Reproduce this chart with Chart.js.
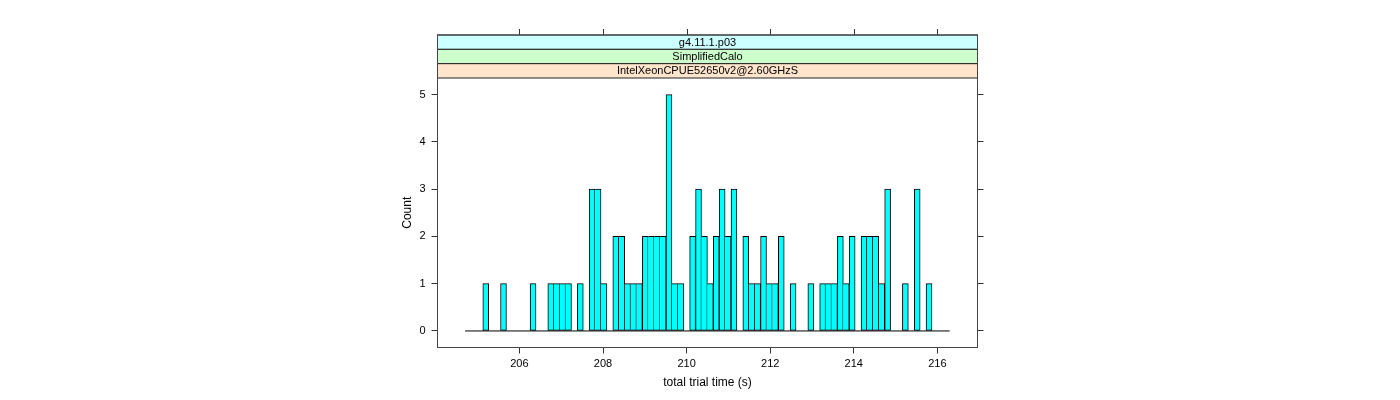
<!DOCTYPE html>
<html>
<head>
<meta charset="utf-8">
<script src="https://cdn.jsdelivr.net/npm/chart.js@4/dist/chart.umd.min.js"></script>
<style>
  html, body { margin: 0; padding: 0; background: #fff; }
  #wrap { width: 1400px; height: 400px; }
</style>
</head>
<body>
<div id="wrap"><canvas id="myChart" width="1400" height="400"></canvas></div>
<script>
// histogram bins (start + width) and the counts
var binStart = 204.70;
var binWidth = 0.1414;
var counts = [0, 0, 0,
  1, 0, 0, 1, 0, 0, 0, 0, 1, 0, 0, 1, 1, 1, 1, 0, 1, 0,
  3, 3, 1, 0, 2, 2, 1, 1, 1, 2, 2, 2, 2, 5, 1, 1, 0,
  2, 3, 2, 1, 2, 3, 2, 3, 0, 2, 1, 1, 2, 1, 1, 2, 0,
  1, 0, 0, 1, 0, 1, 1, 1, 2, 1, 2, 0, 2, 2, 2, 1, 3,
  0, 0, 1, 0, 3, 0, 1, 0, 0, 0];
var xTicks = [206, 208, 210, 212, 214, 216];
var yTicks = [0, 1, 2, 3, 4, 5];
var stripLabels = ['g4.11.1.p03', 'SimplifiedCalo', 'IntelXeonCPUE52650v2@2.60GHzS'];
var stripColors = ['#ccffff', '#ccffcc', '#ffe5cc'];

var FONT = "'Liberation Sans', Arial, sans-serif";
var STRIP_H = 43 / 3;

var bars = counts.map(function(c, i) {
    return {x: binStart + (i + 0.5) * binWidth, y: c};
});
var baseline = [
    {x: binStart, y: 0},
    {x: binStart + counts.length * binWidth, y: 0}
];

function fixTicks(list) {
    return function(scale) {
        scale.ticks = list.map(function(v) { return {value: v}; });
    };
}

// strips above the panel, box around it, and the ticks over the strips
var latticeFrame = {
    id: 'latticeFrame',
    afterDraw: function(chart) {
        var ctx = chart.ctx;
        var a = chart.chartArea;
        var x = chart.scales.x;
        ctx.save();
        ctx.font = '11px ' + FONT;
        ctx.textAlign = 'center';
        ctx.textBaseline = 'middle';
        for (var i = 0; i < stripLabels.length; i++) {
            var top = a.top - STRIP_H * (stripLabels.length - i);
            ctx.fillStyle = stripColors[i];
            ctx.fillRect(a.left, top, a.right - a.left, STRIP_H);
            ctx.strokeStyle = '#222';
            ctx.lineWidth = 1;
            ctx.strokeRect(a.left, top, a.right - a.left, STRIP_H);
            ctx.fillStyle = '#000';
            ctx.fillText(stripLabels[i], (a.left + a.right) / 2, top + STRIP_H / 2 + 0.5);
        }
        var stripTop = a.top - STRIP_H * stripLabels.length;
        ctx.strokeStyle = '#333';
        ctx.beginPath();
        xTicks.forEach(function(v) {
            var px = Math.round(x.getPixelForValue(v)) + 0.5;
            ctx.moveTo(px, stripTop);
            ctx.lineTo(px, stripTop - 6);
        });
        ctx.stroke();
        ctx.strokeStyle = '#444';
        ctx.strokeRect(a.left, stripTop, a.right - a.left, a.bottom - stripTop);
        ctx.restore();
    }
};

var ctx = document.getElementById('myChart');
var chart = new Chart(ctx, {
    type: 'bar',
    data: {
        datasets: [{
            type: 'line',
            data: baseline,
            borderColor: '#000',
            borderWidth: 1,
            pointRadius: 0,
            order: 0
        }, {
            data: bars,
            backgroundColor: '#00ffff',
            borderColor: '#000',
            borderWidth: 1,
            // neighbouring bars share one edge line, like lattice draws it
            borderSkipped: function(c) {
                var i = c.dataIndex;
                var prev = i > 0 ? counts[i - 1] : 0;
                return (counts[i] > 0 && prev >= counts[i]) ? 'left' : false;
            },
            barPercentage: 1,
            categoryPercentage: 1,
            order: 1
        }]
    },
    options: {
        responsive: false,
        animation: false,
        events: [],
        layout: {padding: {left: 400, right: 416.5, top: 78, bottom: 10}},
        plugins: {legend: {display: false}, tooltip: {enabled: false}},
        scales: {
            x: {
                type: 'linear',
                offset: false,
                min: 204.04,
                max: 216.96,
                afterBuildTicks: fixTicks(xTicks),
                afterFit: function(s) { s.height = 42.5; },
                grid: {offset: false, drawOnChartArea: false, drawTicks: true, tickLength: 6, color: '#333'},
                border: {display: false},
                ticks: {font: {family: FONT, size: 11}, color: '#000', padding: 4, maxRotation: 0},
                title: {display: true, text: 'total trial time (s)', font: {family: FONT, size: 12}, color: '#000', padding: 0}
            },
            y: {
                min: -0.35,
                max: 5.35,
                afterBuildTicks: fixTicks(yTicks),
                afterFit: function(s) { s.width = 37.5; },
                grid: {drawOnChartArea: false, drawTicks: true, tickLength: 6, color: '#333'},
                border: {display: false},
                ticks: {font: {family: FONT, size: 11}, color: '#000', padding: 6},
                title: {display: true, text: 'Count', font: {family: FONT, size: 12}, color: '#000', padding: 0}
            },
            y2: {
                position: 'right',
                min: -0.35,
                max: 5.35,
                afterBuildTicks: fixTicks(yTicks),
                afterFit: function(s) { s.width = 6; },
                grid: {drawOnChartArea: false, drawTicks: true, tickLength: 6, color: '#333'},
                border: {display: false},
                ticks: {display: false}
            }
        }
    },
    plugins: [latticeFrame]
});
</script>
</body>
</html>
